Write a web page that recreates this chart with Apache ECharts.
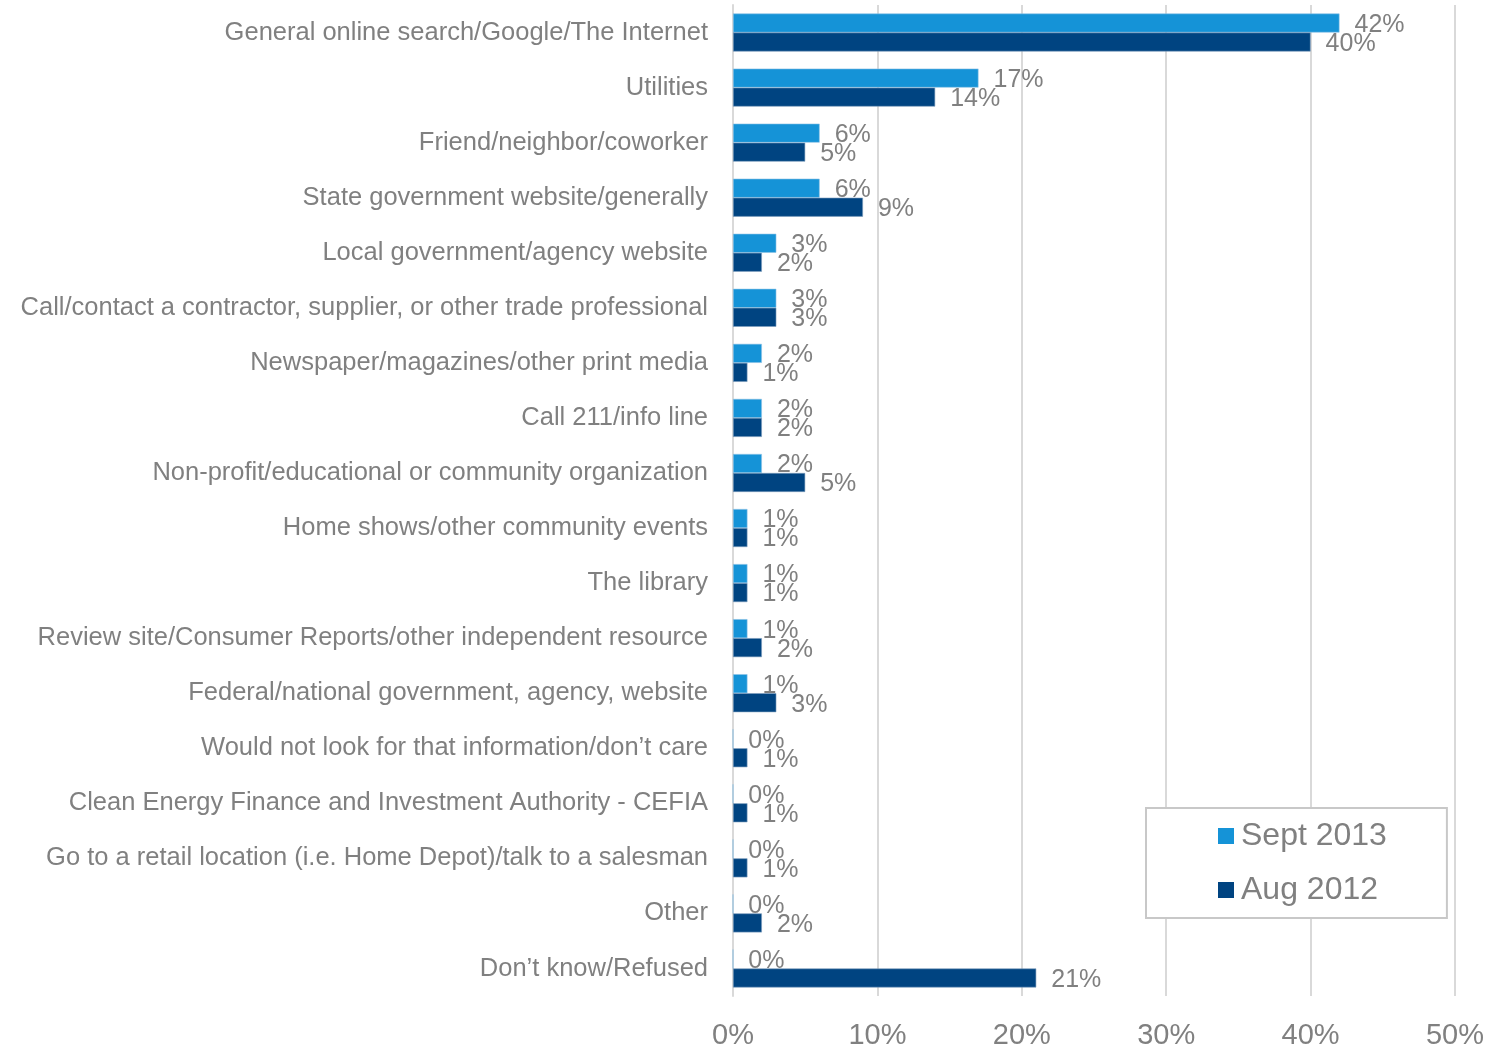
<!DOCTYPE html>
<html>
<head>
<meta charset="utf-8">
<title>Information sources</title>
<script src="https://cdn.jsdelivr.net/npm/echarts@6/dist/echarts.min.js"></script>
<style>
  html, body { margin: 0; padding: 0; background: #ffffff; }
  #chart { width: 1497px; height: 1050px; }
</style>
</head>
<body>
<div id="chart"></div>
<script>
// Where respondents would look for information (percent of respondents)
const categories = [
  'General online search/Google/The Internet',
  'Utilities',
  'Friend/neighbor/coworker',
  'State government website/generally',
  'Local government/agency website',
  'Call/contact a contractor, supplier, or other trade professional',
  'Newspaper/magazines/other print media',
  'Call 211/info line',
  'Non-profit/educational or community organization',
  'Home shows/other community events',
  'The library',
  'Review site/Consumer Reports/other independent resource',
  'Federal/national government, agency, website',
  'Would not look for that information/don\u2019t care',
  'Clean Energy Finance and Investment Authority - CEFIA',
  'Go to a retail location (i.e. Home Depot)/talk to a salesman',
  'Other',
  'Don\u2019t know/Refused'
];
const sept2013 = [42, 17, 6, 6, 3, 3, 2, 2, 2, 1, 1, 1, 1, 0, 0, 0, 0, 0];
const aug2012  = [40, 14, 5, 9, 2, 3, 1, 2, 5, 1, 1, 2, 3, 1, 1, 1, 2, 21];
const xTicks = [0, 10, 20, 30, 40, 50];

const FONT = 'Liberation Sans';
const GREY = '#808080';

const chart = echarts.init(document.getElementById('chart'));

const valueLabel = {
  show: true,
  position: 'right',
  distance: 15,
  offset: [0, 2],
  color: GREY,
  fontFamily: FONT,
  fontSize: 25,
  formatter: p => p.value + '%'
};

chart.setOption({
  animation: false,
  backgroundColor: '#ffffff',
  textStyle: { fontFamily: FONT },
  grid: { left: 733, right: 42, top: 5, bottom: 50, containLabel: false },
  legend: {
    orient: 'vertical',
    left: 1146,
    top: 808,
    padding: [12, 60, 12, 72],
    itemGap: 22,
    itemWidth: 16,
    itemHeight: 16,
    borderColor: '#c8c8c8',
    borderWidth: 2,
    backgroundColor: '#ffffff',
    icon: 'rect',
    itemStyle: { borderWidth: 0 },
    textStyle: { color: GREY, fontSize: 32, lineHeight: 32, fontFamily: FONT, padding: [0, 0, 0, 2] },
    data: ['Sept 2013', 'Aug 2012']
  },
  xAxis: {
    type: 'value',
    min: xTicks[0],
    max: xTicks[xTicks.length - 1],
    interval: xTicks[1] - xTicks[0],
    axisLine: { show: false },
    axisTick: { show: false },
    splitLine: { show: true, lineStyle: { color: '#d9d9d9', width: 2 } },
    axisLabel: {
      margin: 25,
      color: GREY,
      fontSize: 29,
      fontFamily: FONT,
      formatter: v => v + '%'
    }
  },
  yAxis: {
    type: 'category',
    inverse: true,
    data: categories,
    axisLine: { show: true, lineStyle: { color: '#d9d9d9', width: 2 } },
    axisTick: { show: false },
    axisLabel: {
      margin: 25,
      color: GREY,
      fontSize: 25.5,
      fontFamily: FONT,
      padding: [5, 0, 0, 0]
    }
  },
  series: [
    {
      name: 'Sept 2013',
      type: 'bar',
      data: sept2013,
      barWidth: 19,
      barGap: '0%',
      itemStyle: { color: '#1593d7', borderColor: '#8fc3e6', borderWidth: 0.6 },
      label: valueLabel
    },
    {
      name: 'Aug 2012',
      type: 'bar',
      data: aug2012,
      barWidth: 19,
      barGap: '0%',
      itemStyle: { color: '#004481', borderColor: '#7d9dbd', borderWidth: 0.6 },
      label: valueLabel
    }
  ]
});
</script>
</body>
</html>
